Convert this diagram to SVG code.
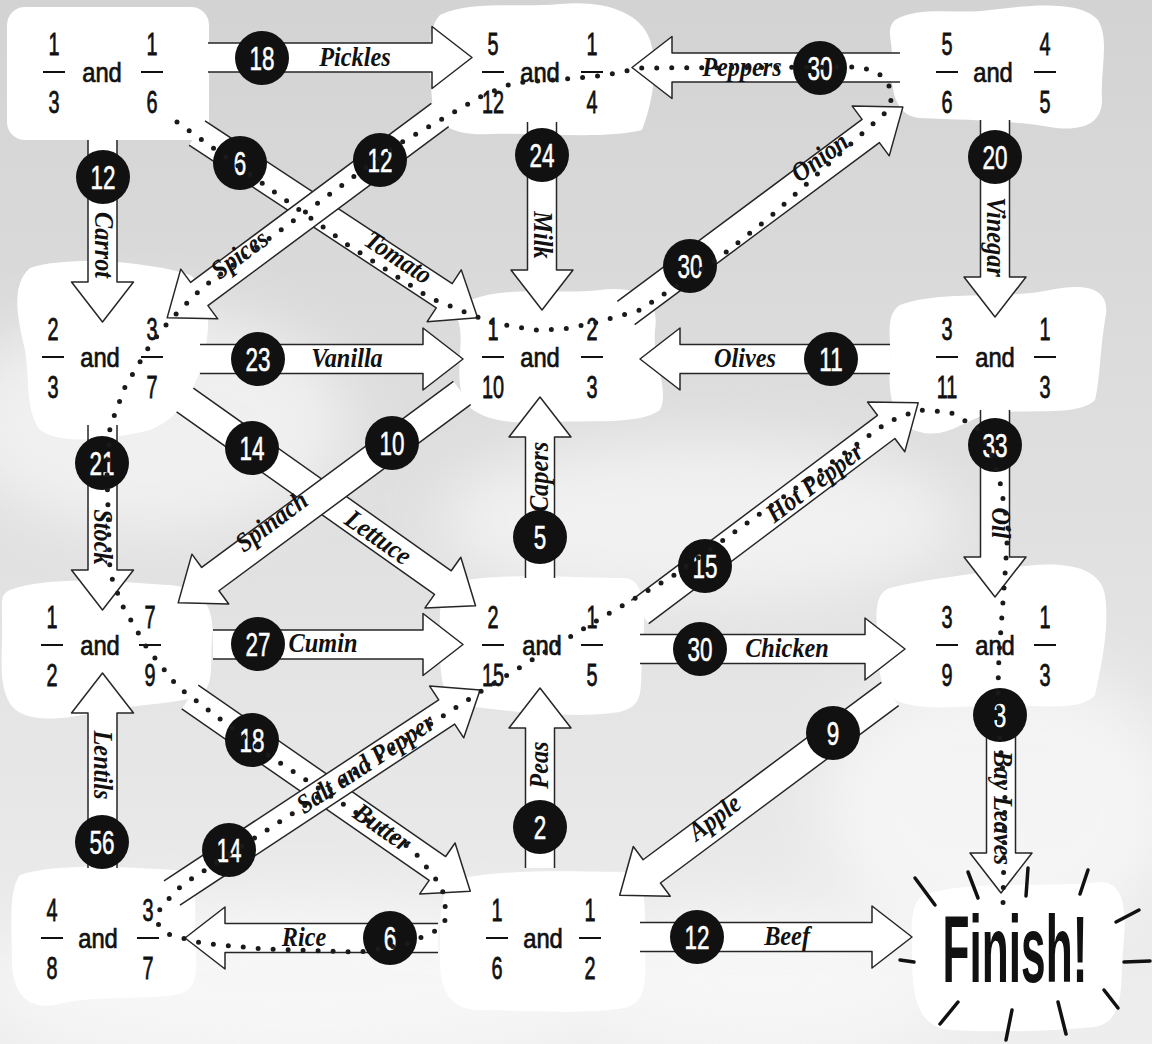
<svg xmlns="http://www.w3.org/2000/svg" width="1152" height="1044" viewBox="0 0 1152 1044">
<defs>
<linearGradient id="bg" x1="0" y1="0" x2="0" y2="1">
<stop offset="0" stop-color="#d3d3d3"/>
<stop offset="0.5" stop-color="#e0e0e0"/>
<stop offset="1" stop-color="#eeeeee"/>
</linearGradient>
<filter id="soft" x="-30%" y="-30%" width="160%" height="160%"><feGaussianBlur stdDeviation="30"/></filter>
<style>
.blob{fill:#ffffff}
.arr{fill:#ffffff;stroke:#262626;stroke-width:1.5;stroke-linejoin:round}
.n{font-family:"Liberation Sans",Arial,sans-serif;font-size:32px;fill:#111;stroke:#111;stroke-width:0.8;text-anchor:middle;transform:scaleX(0.62);transform-box:fill-box;transform-origin:center}
.a{font-family:"Liberation Sans",Arial,sans-serif;font-size:27px;fill:#111;stroke:#111;stroke-width:0.7;text-anchor:middle;transform:scaleX(0.88);transform-box:fill-box;transform-origin:center}
.bar{stroke:#111;stroke-width:2}
.badge{fill:#111}
.bt{font-family:"Liberation Sans",Arial,sans-serif;font-size:34px;fill:#fff;stroke:#fff;stroke-width:0.6;text-anchor:middle;transform:scaleX(0.66);transform-box:fill-box;transform-origin:center}
.lbl{font-family:"Liberation Serif","Times New Roman",serif;font-style:italic;font-weight:bold;font-size:27px;fill:#111;text-anchor:middle;transform:scaleX(0.9);transform-box:fill-box;transform-origin:center}
.fin{font-family:"Liberation Sans",Arial,sans-serif;font-weight:bold;font-size:94px;fill:#111;text-anchor:middle;transform:scaleX(0.47);transform-box:fill-box;transform-origin:center}
.spk{stroke:#111;stroke-width:3.5;stroke-linecap:round}
.dots{fill:none;stroke:#1a1a1a;stroke-width:5;stroke-linecap:round;stroke-linejoin:round;stroke-dasharray:0 15}
</style>
</defs>

<rect width="1152" height="1044" fill="url(#bg)"/>
<g filter="url(#soft)" fill="#ffffff" opacity="0.55">
<ellipse cx="150" cy="420" rx="200" ry="110"/>
<ellipse cx="700" cy="520" rx="260" ry="80"/>
<ellipse cx="1000" cy="800" rx="180" ry="140"/>
<ellipse cx="300" cy="980" rx="320" ry="80"/>
<ellipse cx="760" cy="980" rx="200" ry="70"/>
</g>

<g id="blobs">
<rect class="blob" x="7" y="7" width="202" height="133" rx="18"/>
<path class="blob" d="M440,15 C470,0 520,8 560,4 C600,0 640,10 650,40 C660,70 650,110 642,130 C600,140 540,132 490,134 C460,136 432,128 432,100 C430,70 425,30 440,15 Z"/>
<path class="blob" d="M895,20 C920,5 960,15 990,10 C1030,5 1080,0 1098,20 C1110,40 1100,70 1102,100 C1102,125 1080,132 1050,127 C1010,120 960,120 920,118 C895,116 890,90 892,60 C893,40 885,30 895,20 Z"/>
<path class="blob" d="M30,268 C70,255 150,262 190,275 C215,290 210,340 200,370 C190,400 175,420 150,430 C110,440 60,445 40,430 C25,410 30,380 25,350 C18,320 10,285 30,268 Z"/>
<path class="blob" d="M470,300 C510,285 560,295 600,290 C640,285 660,300 655,330 C652,360 670,390 660,410 C640,425 590,420 550,422 C510,425 470,420 462,395 C455,370 465,340 458,320 C455,305 462,302 470,300 Z"/>
<path class="blob" d="M900,305 C940,290 1000,300 1050,290 C1090,282 1112,290 1105,320 C1100,350 1100,380 1095,400 C1080,415 1040,410 1000,412 C970,414 950,440 920,432 C890,425 888,390 890,360 C891,335 885,315 900,305 Z"/>
<path class="blob" d="M10,590 C50,575 120,582 170,585 C205,588 215,610 212,640 C210,670 215,690 195,698 C160,705 130,705 100,712 C60,720 20,725 8,700 C-2,680 3,650 2,620 C2,600 0,595 10,590 Z"/>
<path class="blob" d="M455,582 C500,572 580,578 625,578 C648,580 645,620 642,660 C640,690 645,705 620,712 C570,720 500,710 460,705 C440,700 440,670 440,640 C440,610 438,588 455,582 Z"/>
<path class="blob" d="M890,588 C930,578 970,575 1010,568 C1060,560 1100,565 1105,595 C1110,630 1100,670 1095,695 C1080,712 1040,705 1000,705 C960,706 920,712 895,700 C875,685 880,660 877,630 C875,605 878,592 890,588 Z"/>
<path class="blob" d="M20,875 C60,862 130,868 175,870 C200,872 195,905 195,940 C197,970 200,990 175,995 C140,1000 90,995 55,1005 C25,1010 12,990 12,960 C12,930 8,890 20,875 Z"/>
<path class="blob" d="M455,880 C500,868 580,872 625,872 C648,875 645,910 645,940 C645,975 650,1000 625,1008 C580,1015 520,1010 480,1010 C450,1010 440,990 440,960 C440,930 438,890 455,880 Z"/>
<path class="blob" d="M930,893 C980,880 1050,888 1100,882 C1128,882 1126,920 1123,950 C1120,985 1126,1022 1094,1027 C1040,1032 990,1032 950,1030 C915,1027 912,990 912,955 C912,925 908,898 930,893 Z"/>
</g>

<g id="connectors">
<g transform="translate(208,57.5)"><path class="arr" d="M0,-14.5 H224 V-31 L264,0 L224,31 V14.5 H0"/></g>
<circle class="badge" cx="262" cy="58" r="27"/><text class="bt" x="262" y="70">18</text>
<text class="lbl" x="355" y="66">Pickles</text>

<g transform="translate(900,67.5) rotate(180)"><path class="arr" d="M0,-14.5 H228 V-31 L268,0 L228,31 V14.5 H0"/></g>
<circle class="badge" cx="820" cy="68" r="27"/><text class="bt" x="820" y="80">30</text>
<text class="lbl" x="742" y="76">Peppers</text>

<g transform="translate(102.5,140) rotate(90)"><path class="arr" d="M0,-14.5 H142 V-31 L182,0 L142,31 V14.5 H0"/></g>
<circle class="badge" cx="103" cy="177" r="27"/><text class="bt" x="103" y="189">12</text>
<g transform="translate(103,245) rotate(90)"><text class="lbl" x="0" y="8">Carrot</text></g>

<g transform="translate(542,122) rotate(90)"><path class="arr" d="M0,-14.5 H148 V-31 L188,0 L148,31 V14.5 H0"/></g>
<circle class="badge" cx="542" cy="155" r="27"/><text class="bt" x="542" y="167">24</text>
<g transform="translate(542,235) rotate(90)"><text class="lbl" x="0" y="8">Milk</text></g>

<g transform="translate(995,120) rotate(90)"><path class="arr" d="M0,-14.5 H157 V-31 L197,0 L157,31 V14.5 H0"/></g>
<circle class="badge" cx="995" cy="157" r="27"/><text class="bt" x="995" y="169">20</text>
<g transform="translate(995,237) rotate(90)"><text class="lbl" x="0" y="8">Vinegar</text></g>

<g transform="translate(197,133) rotate(33.36)"><path class="arr" d="M0,-14.5 H296 V-31 L336,0 L296,31 V14.5 H0"/></g>
<g transform="translate(440,115) rotate(143.37)"><path class="arr" d="M0,-14.5 H300 V-31 L340,0 L300,31 V14.5 H0"/></g>
<circle class="badge" cx="240" cy="163" r="27"/><text class="bt" x="240" y="175">6</text>
<circle class="badge" cx="380" cy="160" r="27"/><text class="bt" x="380" y="172">12</text>
<g transform="translate(398,258) rotate(33.4)"><text class="lbl" x="0" y="8">Tomato</text></g>
<g transform="translate(240,255) rotate(-36.6)"><text class="lbl" x="0" y="8">Spices</text></g>

<g transform="translate(626,313) rotate(-36.64)"><path class="arr" d="M0,-14.5 H305 V-31 L345,0 L305,31 V14.5 H0"/></g>
<circle class="badge" cx="690" cy="266" r="27"/><text class="bt" x="690" y="278">30</text>
<g transform="translate(820,158) rotate(-36.6)"><text class="lbl" x="0" y="8">Onion</text></g>

<g transform="translate(200,359)"><path class="arr" d="M0,-14.5 H223 V-31 L263,0 L223,31 V14.5 H0"/></g>
<circle class="badge" cx="258" cy="359" r="27"/><text class="bt" x="258" y="371">23</text>
<text class="lbl" x="347" y="367">Vanilla</text>

<g transform="translate(890,359) rotate(180)"><path class="arr" d="M0,-14.5 H210 V-31 L250,0 L210,31 V14.5 H0"/></g>
<circle class="badge" cx="831" cy="359" r="27"/><text class="bt" x="831" y="371">11</text>
<text class="lbl" x="745" y="367">Olives</text>

<g transform="translate(102.5,425) rotate(90)"><path class="arr" d="M0,-14.5 H145 V-31 L185,0 L145,31 V14.5 H0"/></g>
<circle class="badge" cx="102" cy="463" r="27"/><text class="bt" x="102" y="475">21</text>
<g transform="translate(102,537) rotate(90)"><text class="lbl" x="0" y="8">Stock</text></g>

<g transform="translate(185,400) rotate(35.3)"><path class="arr" d="M0,-14.5 H316 V-31 L356,0 L316,31 V14.5 H0"/></g>
<g transform="translate(462,393) rotate(143.52)"><path class="arr" d="M0,-14.5 H313 V-31 L353,0 L313,31 V14.5 H0"/></g>
<circle class="badge" cx="252" cy="448" r="27"/><text class="bt" x="252" y="460">14</text>
<circle class="badge" cx="392" cy="443" r="27"/><text class="bt" x="392" y="455">10</text>
<g transform="translate(378,538) rotate(35.3)"><text class="lbl" x="0" y="8">Lettuce</text></g>
<g transform="translate(272,522) rotate(-36.5)"><text class="lbl" x="0" y="8">Spinach</text></g>

<g transform="translate(540,578) rotate(-90)"><path class="arr" d="M0,-14.5 H141 V-31 L181,0 L141,31 V14.5 H0"/></g>
<circle class="badge" cx="540" cy="537" r="27"/><text class="bt" x="540" y="549">5</text>
<g transform="translate(540,477) rotate(-90)"><text class="lbl" x="0" y="8">Capers</text></g>

<g transform="translate(640,612) rotate(-36.94)"><path class="arr" d="M0,-14.5 H308 V-31 L348,0 L308,31 V14.5 H0"/></g>
<circle class="badge" cx="705" cy="566" r="27"/><text class="bt" x="705" y="578">15</text>
<g transform="translate(815,483) rotate(-36.9)"><text class="lbl" x="0" y="8">Hot Pepper</text></g>

<g transform="translate(213,644.5)"><path class="arr" d="M0,-14.5 H210 V-31 L250,0 L210,31 V14.5 H0"/></g>
<circle class="badge" cx="258" cy="644" r="27"/><text class="bt" x="258" y="656">27</text>
<text class="lbl" x="323" y="652">Cumin</text>

<g transform="translate(640,649)"><path class="arr" d="M0,-14.5 H225 V-31 L265,0 L225,31 V14.5 H0"/></g>
<circle class="badge" cx="700" cy="649" r="27"/><text class="bt" x="700" y="661">30</text>
<text class="lbl" x="787" y="657">Chicken</text>

<g transform="translate(995,410) rotate(90)"><path class="arr" d="M0,-14.5 H147 V-31 L187,0 L147,31 V14.5 H0"/></g>
<circle class="badge" cx="995" cy="445" r="27"/><text class="bt" x="995" y="457">33</text>
<g transform="translate(1000,523) rotate(90)"><text class="lbl" x="0" y="8">Oil</text></g>

<g transform="translate(102.5,868) rotate(-90)"><path class="arr" d="M0,-14.5 H155 V-31 L195,0 L155,31 V14.5 H0"/></g>
<circle class="badge" cx="102" cy="842" r="27"/><text class="bt" x="102" y="854">56</text>
<g transform="translate(102,765) rotate(90)"><text class="lbl" x="0" y="8">Lentils</text></g>

<g transform="translate(190,697) rotate(34.72)"><path class="arr" d="M0,-14.5 H301 V-31 L341,0 L301,31 V14.5 H0"/></g>
<g transform="translate(172,893) rotate(-33.39)"><path class="arr" d="M0,-14.5 H329 V-31 L369,0 L329,31 V14.5 H0"/></g>
<circle class="badge" cx="252" cy="740" r="27"/><text class="bt" x="252" y="752">18</text>
<circle class="badge" cx="229" cy="850" r="27"/><text class="bt" x="229" y="862">14</text>
<g transform="translate(382,828) rotate(34.7)"><text class="lbl" x="0" y="8">Butter</text></g>
<g transform="translate(366,764) rotate(-33.4)"><text class="lbl" x="0" y="8">Salt and Pepper</text></g>

<g transform="translate(540,868) rotate(-90)"><path class="arr" d="M0,-14.5 H140 V-31 L180,0 L140,31 V14.5 H0"/></g>
<circle class="badge" cx="540" cy="827" r="27"/><text class="bt" x="540" y="839">2</text>
<g transform="translate(540,765) rotate(-90)"><text class="lbl" x="0" y="8">Peas</text></g>

<g transform="translate(890,694) rotate(143.33)"><path class="arr" d="M0,-14.5 H297 V-31 L337,0 L297,31 V14.5 H0"/></g>
<circle class="badge" cx="833" cy="733" r="27"/><text class="bt" x="833" y="745">9</text>
<g transform="translate(715,818) rotate(-36.7)"><text class="lbl" x="0" y="8">Apple</text></g>

<g transform="translate(1001,705) rotate(90)"><path class="arr" d="M0,-14.5 H148 V-31 L188,0 L148,31 V14.5 H0"/></g>
<circle class="badge" cx="1000" cy="715" r="27"/><text class="bt" x="1000" y="727">3</text>
<g transform="translate(1002,808) rotate(90)"><text class="lbl" x="0" y="8">Bay Leaves</text></g>

<g transform="translate(640,937)"><path class="arr" d="M0,-14.5 H232 V-31 L272,0 L232,31 V14.5 H0"/></g>
<circle class="badge" cx="697" cy="937" r="27"/><text class="bt" x="697" y="949">12</text>
<text class="lbl" x="787" y="945">Beef</text>

<g transform="translate(438,938) rotate(180)"><path class="arr" d="M0,-14.5 H213 V-31 L253,0 L213,31 V14.5 H0"/></g>
<circle class="badge" cx="390" cy="938" r="27"/><text class="bt" x="390" y="950">6</text>
<text class="lbl" x="304" y="946">Rice</text>
</g>

<g id="n-a"><text class="n" x="54" y="55">1</text><line class="bar" x1="43" y1="72" x2="65" y2="72"/><text class="n" x="54" y="113">3</text><text class="a" x="102" y="82">and</text><text class="n" x="152" y="55">1</text><line class="bar" x1="141" y1="72" x2="163" y2="72"/><text class="n" x="152" y="113">6</text></g>
<g id="n-b"><text class="n" x="493" y="55">5</text><line class="bar" x1="482" y1="72" x2="504" y2="72"/><text class="n" x="493" y="113">12</text><text class="a" x="540" y="82">and</text><text class="n" x="592" y="55">1</text><line class="bar" x1="581" y1="72" x2="603" y2="72"/><text class="n" x="592" y="113">4</text></g>
<g id="n-c"><text class="n" x="947" y="55">5</text><line class="bar" x1="936" y1="72" x2="958" y2="72"/><text class="n" x="947" y="113">6</text><text class="a" x="993" y="82">and</text><text class="n" x="1045" y="55">4</text><line class="bar" x1="1034" y1="72" x2="1056" y2="72"/><text class="n" x="1045" y="113">5</text></g>
<g id="n-d"><text class="n" x="53" y="340">2</text><line class="bar" x1="42" y1="357" x2="64" y2="357"/><text class="n" x="53" y="398">3</text><text class="a" x="100" y="367">and</text><text class="n" x="152" y="340">3</text><line class="bar" x1="141" y1="357" x2="163" y2="357"/><text class="n" x="152" y="398">7</text></g>
<g id="n-e"><text class="n" x="493" y="340">1</text><line class="bar" x1="482" y1="357" x2="504" y2="357"/><text class="n" x="493" y="398">10</text><text class="a" x="540" y="367">and</text><text class="n" x="592" y="340">2</text><line class="bar" x1="581" y1="357" x2="603" y2="357"/><text class="n" x="592" y="398">3</text></g>
<g id="n-f"><text class="n" x="947" y="340">3</text><line class="bar" x1="936" y1="357" x2="958" y2="357"/><text class="n" x="947" y="398">11</text><text class="a" x="995" y="367">and</text><text class="n" x="1045" y="340">1</text><line class="bar" x1="1034" y1="357" x2="1056" y2="357"/><text class="n" x="1045" y="398">3</text></g>
<g id="n-g"><text class="n" x="52" y="628">1</text><line class="bar" x1="41" y1="645" x2="63" y2="645"/><text class="n" x="52" y="686">2</text><text class="a" x="100" y="655">and</text><text class="n" x="150" y="628">7</text><line class="bar" x1="139" y1="645" x2="161" y2="645"/><text class="n" x="150" y="686">9</text></g>
<g id="n-h"><text class="n" x="493" y="628">2</text><line class="bar" x1="482" y1="645" x2="504" y2="645"/><text class="n" x="493" y="686">15</text><text class="a" x="542" y="655">and</text><text class="n" x="592" y="628">1</text><line class="bar" x1="581" y1="645" x2="603" y2="645"/><text class="n" x="592" y="686">5</text></g>
<g id="n-i"><text class="n" x="947" y="628">3</text><line class="bar" x1="936" y1="645" x2="958" y2="645"/><text class="n" x="947" y="686">9</text><text class="a" x="995" y="655">and</text><text class="n" x="1045" y="628">1</text><line class="bar" x1="1034" y1="645" x2="1056" y2="645"/><text class="n" x="1045" y="686">3</text></g>
<g id="n-j"><text class="n" x="52" y="921">4</text><line class="bar" x1="41" y1="938" x2="63" y2="938"/><text class="n" x="52" y="979">8</text><text class="a" x="98" y="948">and</text><text class="n" x="148" y="921">3</text><line class="bar" x1="137" y1="938" x2="159" y2="938"/><text class="n" x="148" y="979">7</text></g>
<g id="n-k"><text class="n" x="497" y="921">1</text><line class="bar" x1="486" y1="938" x2="508" y2="938"/><text class="n" x="497" y="979">6</text><text class="a" x="543" y="948">and</text><text class="n" x="590" y="921">1</text><line class="bar" x1="579" y1="938" x2="601" y2="938"/><text class="n" x="590" y="979">2</text></g>
<g id="n-finish">
<line class="spk" x1="915" y1="878" x2="935" y2="905"/>
<line class="spk" x1="968" y1="872" x2="978" y2="898"/>
<line class="spk" x1="1028" y1="868" x2="1026" y2="896"/>
<line class="spk" x1="1088" y1="870" x2="1080" y2="894"/>
<line class="spk" x1="1116" y1="922" x2="1139" y2="910"/>
<line class="spk" x1="1124" y1="962" x2="1150" y2="961"/>
<line class="spk" x1="1104" y1="990" x2="1118" y2="1008"/>
<line class="spk" x1="1058" y1="1002" x2="1066" y2="1034"/>
<line class="spk" x1="1012" y1="1010" x2="1006" y2="1040"/>
<line class="spk" x1="958" y1="1002" x2="940" y2="1024"/>
<line class="spk" x1="914" y1="962" x2="900" y2="960"/>
<text class="fin" x="1015" y="982">Finish!</text>
</g>

<path class="dots" d="M177,122 L348,245 L430,298 L490,322 L533,330 L563,329 L595,323 L640,310 L720,257 L770,217 L885,113 L892,98 L888,82 L877,72 L860,67 L640,68 L607,75 L577,78 L513,83 L482,96 L397,145 L203,287 L170,320 L150,345 L125,387 L110,427 L107,475 L110,573 L122,605 L147,648 L178,687 L265,753 L413,850 L442,887 L447,918 L437,930 L407,944 L360,952 L262,949 L202,943 L170,935 L158,924 L160,908 L182,885 L267,830 L480,692 L535,658 L603,617 L673,576 L888,422 L918,410 L950,412 L977,428 L990,450 L1000,482 L1008,527 L1005,575 L999,655 L998,687 L1000,743 L1005,793 L1003,905"/>
</svg>
